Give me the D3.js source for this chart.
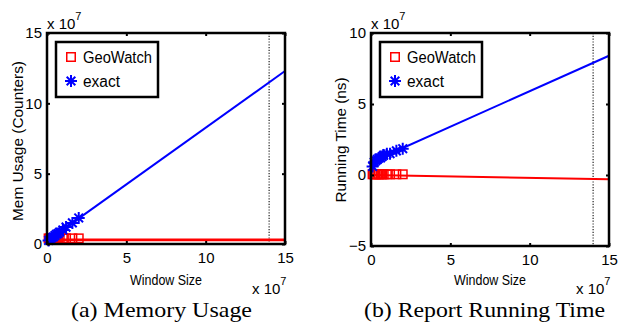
<!DOCTYPE html>
<html><head><meta charset="utf-8">
<script src="https://cdn.jsdelivr.net/npm/d3@7"></script>
<style>body{margin:0;background:#fff}svg{display:block}</style>
</head><body>
<svg id="c" width="618" height="325"></svg>
<script>
// window sizes in units of 1e7
const windowSizes = [0.1,0.2,0.3,0.4,0.5,0.6,0.7,0.8,1.0,1.2,1.6,2.0];
const memExact = [0.25,0.35,0.45,0.5,0.6,0.7,0.75,0.85,1.0,1.2,1.5,1.85];
const memGeo   = [0.4,0.4,0.4,0.4,0.4,0.4,0.4,0.4,0.4,0.4,0.4,0.4];
const timeExact = [0.6,0.9,1.0,1.1,1.2,1.2,1.3,1.4,1.5,1.5,1.7,1.85];
const timeGeo   = [0.05,0.05,0.05,0.05,0.05,0.05,0.05,0.05,0.05,0.05,0.05,0.05];
// linear fit lines (x, y)
const memExactFit = [[0,0.2],[15,12.3]];
const memGeoFit = [[0,0.3],[15,0.3]];
const timeExactFit = [[0,0.9],[15,8.4]];
const timeGeoFit = [[0,0.0],[15,-0.3]];
const xTicks = [0,5,10,15];
const memTicks = [0,5,10,15];
const timeTicks = [-5,0,5,10];
const markerX = 14;
const legendLabels = ["GeoWatch","exact"];

const SANS = "'Liberation Sans', Arial, Helvetica, sans-serif";
const SERIF = "'Liberation Serif', 'Times New Roman', serif";
const svg = d3.select("#c");

function star(g, x, y, r, color){
  const d = `M${x-r},${y}L${x+r},${y}M${x},${y-r}L${x},${y+r}M${x-r*0.72},${y-r*0.72}L${x+r*0.72},${y+r*0.72}M${x-r*0.72},${y+r*0.72}L${x+r*0.72},${y-r*0.72}`;
  g.append("path").attr("d", d).attr("stroke", color).attr("stroke-width", 2).attr("fill","none");
}
function square(g, x, y, s, color){
  g.append("rect").attr("x", x-s/2).attr("y", y-s/2).attr("width", s).attr("height", s)
   .attr("fill","none").attr("stroke", color).attr("stroke-width", 1.5);
}
function txt(g, x, y, s, size, font){
  return g.append("text").attr("x",x).attr("y",y).style("font-family",font||SANS).style("font-size",size+"px").attr("fill","#000").text(s);
}

function panel(opt){
  const g = svg.append("g");
  const x = d3.scaleLinear().domain([0,15]).range([opt.x0, opt.x1]);
  const y = d3.scaleLinear().domain(opt.ydom).range([opt.y1, opt.y0]);
  g.append("line").attr("x1", x(markerX)).attr("x2", x(markerX)).attr("y1", opt.y0).attr("y2", opt.y1)
   .attr("stroke","#333").attr("stroke-width",1.3).attr("stroke-dasharray","1.2,1.6");
  const line = d3.line().x(d=>x(d[0])).y(d=>y(d[1]));
  g.append("path").attr("d", line(opt.exactFit)).attr("stroke","#0000ff").attr("stroke-width",2).attr("fill","none");
  g.append("path").attr("d", line(opt.geoFit)).attr("stroke","#ff0000").attr("stroke-width",opt.redW).attr("fill","none");
  windowSizes.forEach((w,i)=>{ square(g, x(w), y(opt.geo[i]), 8.5, "#ff0000"); });
  windowSizes.forEach((w,i)=>{ star(g, x(w), y(opt.exact[i]), 6, "#0000ff"); });
  const ax = d3.axisBottom(x).tickValues(xTicks).tickSize(-3).tickPadding(8).tickFormat(d3.format("d"));
  const axT = d3.axisTop(x).tickValues(xTicks).tickSize(-3).tickFormat("");
  const ay = d3.axisLeft(y).tickValues(opt.yticks).tickSize(-3).tickPadding(5).tickFormat(d3.format("d"));
  const ayR = d3.axisRight(y).tickValues(opt.yticks).tickSize(-3).tickFormat("");
  [[ax,`translate(0,${opt.y1})`],[axT,`translate(0,${opt.y0})`],[ay,`translate(${opt.x0},0)`],[ayR,`translate(${opt.x1},0)`]].forEach(([a,t])=>{
    const ag = g.append("g").attr("transform",t).call(a);
    ag.select(".domain").remove();
    ag.selectAll(".tick line").attr("stroke","#000").attr("stroke-width",2);
    ag.selectAll("text").style("font-size","15px").attr("fill","#000").style("font-family",SANS);
  });
  g.append("rect").attr("x",opt.x0).attr("y",opt.y0).attr("width",opt.x1-opt.x0).attr("height",opt.y1-opt.y0)
   .attr("fill","none").attr("stroke","#000").attr("stroke-width",2.5);
  const ex = (tx, ty) => {
    const t = g.append("text").attr("x",tx).attr("y",ty).style("font-size","15px").style("font-family",SANS).attr("fill","#000");
    t.append("tspan").text("x 10");
    t.append("tspan").attr("dy",-9).style("font-size","11px").text("7");
  };
  ex(opt.x0, 29);
  ex(opt.x1-33, 294);
  txt(g,(opt.x0+opt.x1)/2,285,"Window Size",15).attr("text-anchor","middle")
   .attr("textLength",72).attr("lengthAdjust","spacingAndGlyphs");
  g.append("text").attr("transform",`translate(${opt.ylabX},${opt.ylabY}) rotate(-90)`).attr("text-anchor","middle")
   .style("font-size","15px").style("font-family",SANS).attr("textLength",opt.ylabLen).attr("lengthAdjust","spacingAndGlyphs").text(opt.ylab);
  const lx = opt.x0+9, ly = 42;
  g.append("rect").attr("x",lx).attr("y",ly).attr("width",102).attr("height",55).attr("fill","#fff")
   .attr("stroke","#000").attr("stroke-width",2.5);
  square(g, lx+15, ly+15, 8.5, "#ff0000");
  star(g, lx+15, ly+39, 6, "#0000ff");
  txt(g,lx+27,ly+21,legendLabels[0],16).attr("textLength",69).attr("lengthAdjust","spacingAndGlyphs");
  txt(g,lx+27,ly+45,legendLabels[1],16).attr("textLength",37).attr("lengthAdjust","spacingAndGlyphs");
  txt(svg,opt.capX,317,opt.caption,21,SERIF).attr("textLength",opt.capLen).attr("lengthAdjust","spacingAndGlyphs");
}

panel({x0:47,x1:285,y0:33,y1:244,ydom:[0,15],yticks:memTicks,exact:memExact,geo:memGeo,exactFit:memExactFit,geoFit:memGeoFit,
  redW:2.8,ylab:"Mem Usage (Counters)",ylabX:23,ylabY:141,ylabLen:160,caption:"(a) Memory Usage",capX:71,capLen:181});
panel({x0:371,x1:609,y0:33,y1:246,ydom:[-5,10],yticks:timeTicks,exact:timeExact,geo:timeGeo,exactFit:timeExactFit,geoFit:timeGeoFit,
  redW:2,ylab:"Running Time (ns)",ylabX:346,ylabY:140,ylabLen:125,caption:"(b) Report Running Time",capX:364,capLen:241});
</script>
</body></html>
